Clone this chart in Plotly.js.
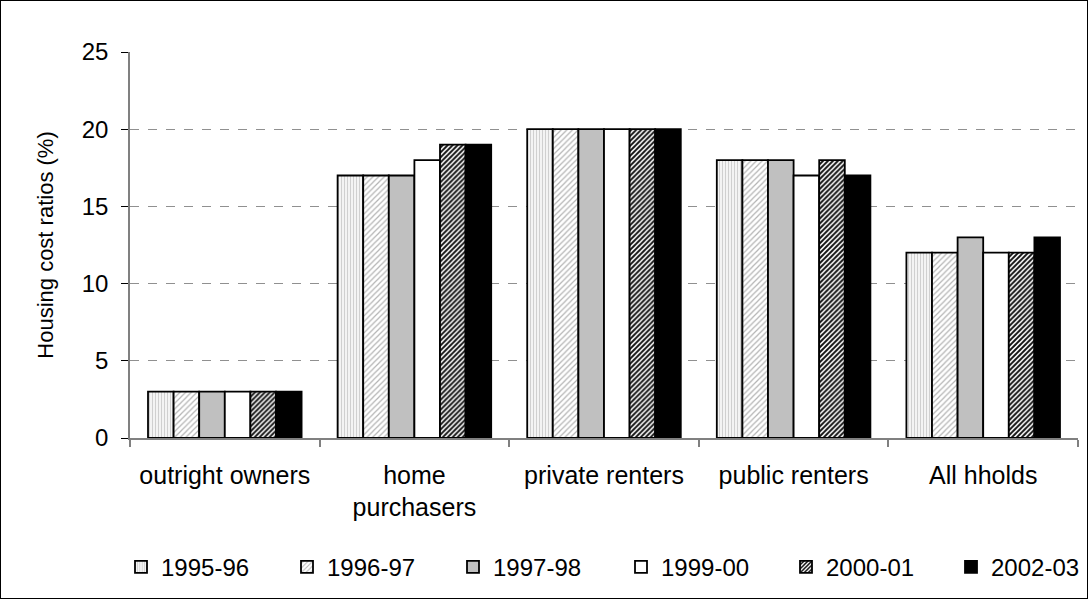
<!DOCTYPE html>
<html>
<head>
<meta charset="utf-8">
<script src="https://cdn.plot.ly/plotly-3.0.1.min.js"></script>
<style>
  html, body { margin: 0; padding: 0; background: #fff; }
  #wrap { position: relative; width: 1088px; height: 599px; }
  #chart { width: 1088px; height: 599px; }
  #frame { position: absolute; left: 0; top: 0; width: 1088px; height: 599px;
           box-sizing: border-box; border: 1px solid #000; pointer-events: none; }
</style>
</head>
<body>
<div id="wrap">
  <div id="chart"></div>
  <div id="frame"></div>
</div>
<script>
// Household groups on the x axis
const categories = ['outright owners', 'home<br>purchasers', 'private renters', 'public renters', 'All hholds'];

// Survey years (one series each)
const years = ['1995-96', '1996-97', '1997-98', '1999-00', '2000-01', '2002-03'];

// Housing cost ratios (%) per survey year
const v1995_96 = [3, 17, 20, 18, 12];
const v1996_97 = [3, 17, 20, 18, 12];
const v1997_98 = [3, 17, 20, 18, 13];
const v1999_00 = [3, 18, 20, 17, 12];
const v2000_01 = [3, 19, 20, 18, 12];
const v2002_03 = [3, 19, 20, 17, 13];

const seriesValues = [v1995_96, v1996_97, v1997_98, v1999_00, v2000_01, v2002_03];

// Fill styles, one per survey year
const fills = [
  { shape: '|', bgcolor: '#f4f4f4', fgcolor: '#d0d0d0', size: 3, solidity: 0.35 },
  { shape: '/', bgcolor: '#ffffff', fgcolor: '#b4b4b4', size: 4, solidity: 0.3 },
  { shape: '',  bgcolor: '#c0c0c0', fgcolor: '#c0c0c0', size: 4, solidity: 0.3 },
  { shape: '',  bgcolor: '#ffffff', fgcolor: '#ffffff', size: 4, solidity: 0.3 },
  { shape: '/', bgcolor: '#ffffff', fgcolor: '#111111', size: 3.5, solidity: 0.55 },
  { shape: '',  bgcolor: '#000000', fgcolor: '#000000', size: 4, solidity: 0.3 }
];

const FONT = 'Liberation Sans, Arial, sans-serif';

// Plot area geometry used to place the legend entries in a single row
const plotLeft = 130, plotWidth = 948;
const legendPx = [121, 287, 453, 621, 786, 951];

const traces = years.map((yr, i) => ({
  type: 'bar',
  name: yr,
  x: categories,
  y: seriesValues[i],
  legend: i === 0 ? 'legend' : 'legend' + (i + 1),
  marker: {
    color: fills[i].bgcolor,
    line: { color: '#000000', width: 1.8 },
    pattern: fills[i].shape ? {
      shape: fills[i].shape,
      bgcolor: fills[i].bgcolor,
      fgcolor: fills[i].fgcolor,
      size: fills[i].size,
      solidity: fills[i].solidity,
      fillmode: 'replace'
    } : undefined
  },
  hoverinfo: 'x+y+name'
}));

const layout = {
  width: 1088,
  height: 599,
  paper_bgcolor: '#ffffff',
  plot_bgcolor: '#ffffff',
  margin: { l: 130, r: 10, t: 52, b: 161, autoexpand: false },
  font: { family: FONT, size: 24, color: '#000000' },
  barmode: 'group',
  bargap: 0.19,
  bargroupgap: 0,
  showlegend: true,
  xaxis: {
    type: 'category',
    showline: true,
    linecolor: '#808080',
    linewidth: 1.5,
    ticks: 'outside',
    tickson: 'boundaries',
    ticklen: 7,
    tickcolor: '#808080',
    tickwidth: 1.5,
    ticklabelstandoff: 14,
    showgrid: false,
    tickfont: { family: FONT, size: 25, color: '#000000' }
  },
  yaxis: {
    range: [0, 25],
    dtick: 5,
    tick0: 0,
    showline: true,
    linecolor: '#808080',
    linewidth: 1.5,
    ticks: 'outside',
    ticklen: 7,
    tickcolor: '#000000',
    tickwidth: 1,
    ticklabelstandoff: 8,
    showgrid: true,
    gridcolor: '#909090',
    griddash: 'dash',
    gridwidth: 1,
    zeroline: false,
    tickfont: { family: FONT, size: 24, color: '#000000' },
    title: { text: 'Housing cost ratios (%)', font: { family: FONT, size: 22, color: '#000000' }, standoff: 22 }
  }
};

// One single-entry legend per survey year, laid out along the bottom
legendPx.forEach((px, i) => {
  const key = i === 0 ? 'legend' : 'legend' + (i + 1);
  layout[key] = {
    orientation: 'h',
    x: (px - plotLeft) / plotWidth,
    xanchor: 'left',
    y: -0.335,
    yanchor: 'middle',
    bgcolor: 'rgba(0,0,0,0)',
    font: { family: FONT, size: 24, color: '#000000' },
    itemclick: false,
    itemdoubleclick: false
  };
});

Plotly.newPlot('chart', traces, layout, { displayModeBar: false });
</script>
</body>
</html>
